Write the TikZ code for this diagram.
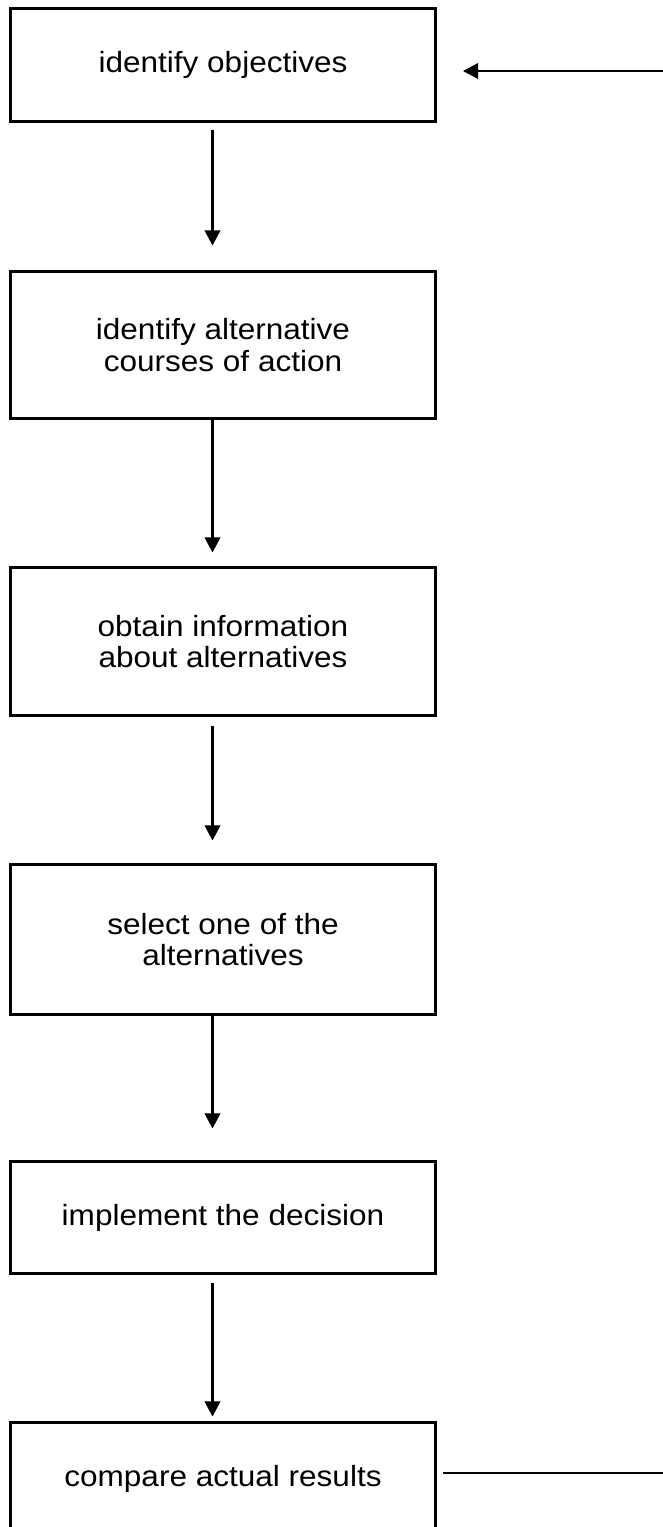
\documentclass[tikz,border=0pt]{standalone}
\usepackage{fontspec}
\setmainfont[FakeStretch=1.08]{Liberation Sans}
\usetikzlibrary{arrows.meta}

\begin{document}
\begin{tikzpicture}[x=0.5pt, y=-0.5pt]
\tikzset{boite/.style={draw, line width=1.25pt, minimum width=212.5pt, inner sep=0pt, outer sep=0pt, align=center, font=\fontsize{14.6pt}{15.75pt}\selectfont},
fleche/.style={-{Triangle[width=7.8pt, length=7.6pt]}, line width=1.15pt}}
\useasboundingbox (0, 0) rectangle (663, 1527);
\clip (0, 0) rectangle (663, 1527);
\node[boite, minimum height=56.5pt] (E1) at (223, 65) {identify objectives};
\node[boite, minimum height=73.5pt] (E2) at (223, 345) {identify alternative\\courses of action};
\node[boite, minimum height=74pt] (E3) at (223, 641.5) {obtain information\\about alternatives};
\node[boite, minimum height=75pt] (E4) at (223, 939.5) {select one of the\\alternatives};
\node[boite, minimum height=56pt] (E5) at (223, 1217.5) {implement the decision};
\node[boite, minimum height=56pt] (E6) at (223, 1478.5) {compare actual results};
\coordinate (retour) at (663, 71);
\coordinate (sortie) at (663, 1473);
\draw[fleche, shorten <=4pt, shorten >=13pt] ([xshift=-5.25pt]E1.south) -- ([xshift=-5.25pt]E2.north);
\draw[fleche, shorten >=7.5pt] ([xshift=-5.25pt]E2.south) -- ([xshift=-5.25pt]E3.north);
\draw[fleche, shorten <=5pt, shorten >=12pt] ([xshift=-5.25pt]E3.south) -- ([xshift=-5.25pt]E4.north);
\draw[fleche, shorten >=16.5pt] ([xshift=-5.25pt]E4.south) -- ([xshift=-5.25pt]E5.north);
\draw[fleche, shorten <=4.5pt, shorten >=3pt] ([xshift=-5.25pt]E5.south) -- ([xshift=-5.25pt]E6.north);
\draw[fleche, shorten >=13.75pt] (retour) -- (retour -| E1.east);
\draw[line width=1pt, shorten <=3.75pt] (E6.east |- sortie) -- (sortie);
\end{tikzpicture}
\end{document}
